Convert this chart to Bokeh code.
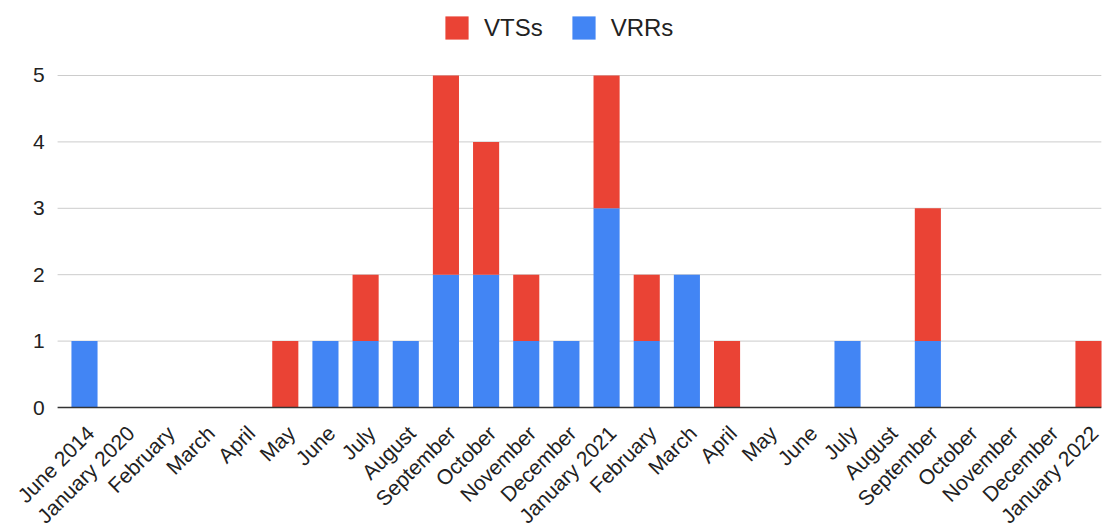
from bokeh.plotting import figure
from bokeh.models import ColumnDataSource, Legend, LegendItem, Range1d
from bokeh.core.properties import value
from bokeh.embed import file_html
from bokeh.resources import INLINE
import math

months = ["June 2014", "January 2020", "February", "March", "April", "May", "June",
          "July", "August", "September", "October", "November", "December",
          "January 2021", "February", "March", "April", "May", "June", "July",
          "August", "September", "October", "November", "December", "January 2022"]
vrrs = [1, 0, 0, 0, 0, 0, 1, 1, 1, 2, 2, 1, 1, 3, 1, 2, 0, 0, 0, 1, 0, 1, 0, 0, 0, 0]
vtss = [0, 0, 0, 0, 0, 1, 0, 1, 0, 3, 2, 1, 0, 2, 1, 0, 1, 0, 0, 0, 0, 2, 0, 0, 0, 1]
y_ticks = [0, 1, 2, 3, 4, 5]

idx = list(range(len(months)))
source = ColumnDataSource(dict(x=idx, VRRs=vrrs, VTSs=vtss, label=months,
                               base=[0] * len(months)))

FONT = "Liberation Sans"
# plotting-area extent in category units (left/right edge of gridlines)
X_LO, X_HI = -0.67, 25.32

p = figure(width=1102, height=530, output_backend="svg", toolbar_location=None,
           x_axis_location=None, y_axis_location=None,
           x_range=Range1d(-2.0916, 25.349), y_range=Range1d(-1.8524, 6.1295),
           min_border_left=0, min_border_right=0, min_border_top=0, min_border_bottom=0)
p.outline_line_color = None
p.background_fill_color = None
p.grid.visible = False

# horizontal gridlines at the value ticks
grid_src = ColumnDataSource(dict(y=y_ticks[1:], x0=[X_LO] * 5, x1=[X_HI] * 5))
p.segment(x0="x0", y0="y", x1="x1", y1="y", source=grid_src,
          line_color="#cccccc", line_width=1)

rs = p.vbar_stack(["VRRs", "VTSs"], x="x", width=0.65, source=source,
                  color=["#4285F4", "#EA4335"], line_color=None)

# baseline (axis line at zero)
p.segment(x0=[X_LO], y0=[y_ticks[0]], x1=[X_HI], y1=[y_ticks[0]],
          line_color="#333333", line_width=1.5)

# value tick labels
ylab_src = ColumnDataSource(dict(y=y_ticks, x=[X_LO] * len(y_ticks),
                                 t=[str(v) for v in y_ticks]))
p.text(x="x", y="y", text="t", source=ylab_src, x_offset=-13,
       text_align="right", text_baseline="middle",
       text_font=value(FONT), text_font_size=value("21px"), text_color="#222222")

# category labels, rotated 45 degrees, anchored under each bar
p.text(x="x", y="base", text="label", source=source, angle=math.pi / 4,
       text_align="right", text_baseline="middle", x_offset=6, y_offset=22,
       text_font=value(FONT), text_font_size=value("21px"), text_color="#222222")

legend = Legend(items=[LegendItem(label="VTSs", renderers=[rs[1]]),
                       LegendItem(label="VRRs", renderers=[rs[0]])],
                orientation="horizontal", location=(442, 488),
                glyph_width=29, glyph_height=29, label_standoff=13, spacing=26,
                padding=0, margin=0, border_line_color=None,
                background_fill_alpha=0,
                label_text_font=FONT, label_text_font_size="24px",
                label_text_color="#222222")
p.add_layout(legend, "center")

open("out.html", "w").write(file_html(p, INLINE))
